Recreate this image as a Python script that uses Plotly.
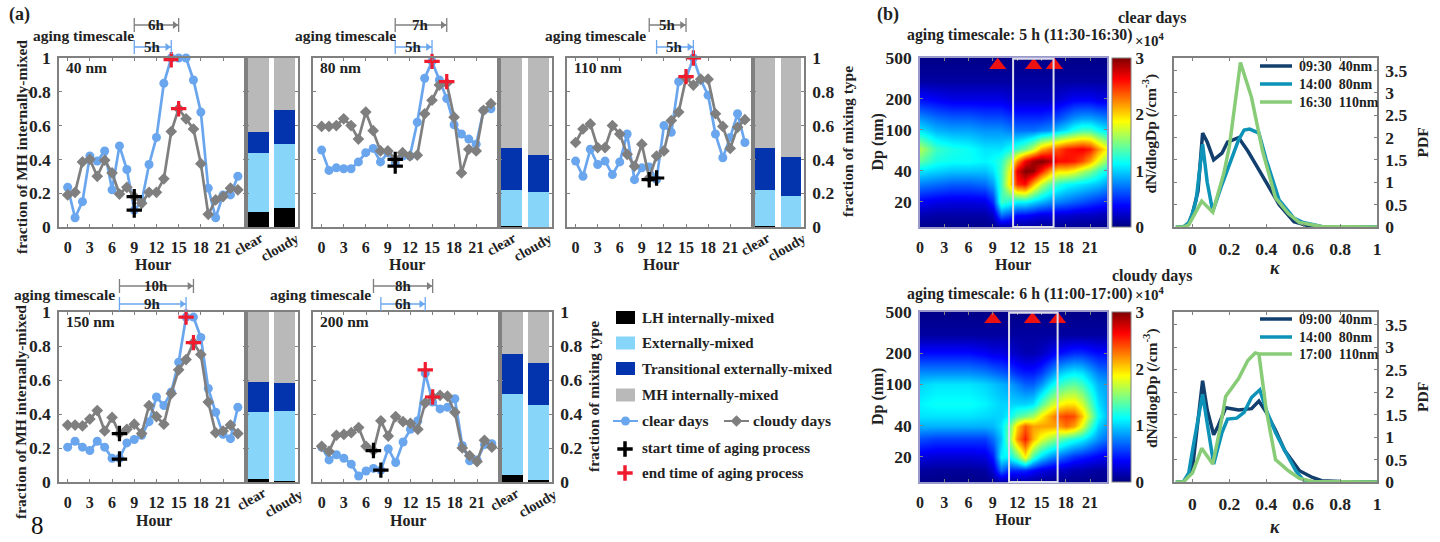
import plotly.graph_objects as go
import math

W, H = 1440, 542
FONT = "Liberation Serif"

# ---------- data ----------
hours = list(range(24))
panels = ["40 nm", "80 nm", "110 nm", "150 nm", "200 nm"]

clear_40 = [.235,.055,.15,.42,.39,.45,.22,.48,.34,.10,.15,.37,.53,.85,1.0,1.0,1.0,.87,.68,.23,.055,.19,.19,.30]
cloudy_40 = [.19,.205,.385,.40,.30,.395,.32,.195,.235,.18,.14,.205,.205,.285,.565,.70,.64,.58,.375,.075,.16,.18,.23,.22]
clear_80 = [.455,.335,.35,.345,.345,.385,.44,.465,.385,.44,.38,.42,.42,.62,.88,.98,.87,.76,.605,.55,.52,.49,.69,.70]
cloudy_80 = [.595,.595,.60,.64,.60,.52,.68,.57,.45,.45,.40,.44,.42,.425,.67,.75,.84,.85,.65,.32,.46,.45,.69,.73]
clear_110 = [.39,.30,.46,.37,.39,.31,.385,.55,.28,.35,.355,.28,.60,.56,.86,.88,1.0,.87,.78,.55,.41,.53,.67,.50]
cloudy_110 = [.50,.58,.61,.47,.47,.60,.55,.43,.36,.49,.29,.42,.45,.63,.68,.88,.84,.875,.875,.67,.595,.465,.59,.635]
clear_150 = [.205,.24,.205,.185,.24,.205,.14,.14,.23,.25,.275,.355,.50,.45,.53,.705,.97,.97,.85,.55,.41,.28,.255,.44]
cloudy_150 = [.335,.335,.33,.37,.42,.30,.38,.285,.31,.34,.285,.45,.385,.34,.52,.66,.72,.82,.75,.47,.29,.30,.335,.285]
clear_200 = [.205,.13,.16,.14,.105,.035,.065,.08,.07,.195,.115,.235,.31,.36,.64,.47,.43,.44,.49,.215,.125,.13,.22,.225]
cloudy_200 = [.21,.18,.275,.28,.29,.32,.21,.185,.36,.27,.385,.355,.345,.31,.465,.50,.51,.505,.41,.20,.155,.12,.245,.205]

start_x = [[9, 9], [10, 10], [10, 11], [7, 7], [7, 8]]
start_y = [[.18, .10], [.40, .36], [.28, .29], [.285, .135], [.185, .07]]
end_x = [[14, 15], [15, 17], [15, 16], [16, 17], [14, 15]]
end_y = [[.99, .70], [.98, .86], [.89, 1.0], [.97, .82], [.66, .50]]
aging_gray = [6, 7, 5, 10, 8]
aging_blue = [5, 5, 5, 9, 6]

bar_days = ["clear", "cloudy"]
lh_mixed = [[.09, .115], [.005, 0], [.003, 0], [.02, .005], [.04, .01]]
ext_mixed = [[.35, .375], [.215, .21], [.217, .185], [.39, .41], [.475, .445]]
trans_mixed = [[.125, .20], [.245, .215], [.245, .23], [.18, .165], [.24, .245]]
mh_mixed = [[.435, .31], [.535, .575], [.535, .585], [.41, .42], [.245, .30]]

hm_hours = [0,2,4,6,8,9,10,11,12,13,14,15,16,17,18,19,20,21,22,23]
hm_dp = [11,15,20,30,40,50,65,100,130,200,300,520]
hm_clear = [
 [.02]*20,
 [.15,.12,.12,.12,.12,.2,.7,.6,.4,.4,.35,.3,.3,.25,.25,.22,.2,.2,.18,.15],
 [.35,.3,.28,.28,.3,.5,1.3,1.2,1.1,1.1,1.0,.9,.8,.75,.7,.65,.6,.55,.5,.45],
 [.75,.7,.65,.65,.7,.85,1.3,1.9,2.5,2.6,2.1,1.7,1.4,1.25,1.15,1.1,1.05,1.0,.95,.85],
 [1.05,1.0,.95,.95,.95,1.05,1.3,1.8,2.7,3.0,2.95,2.55,2.15,1.95,1.95,1.85,1.65,1.5,1.3,1.15],
 [1.4,1.2,1.15,1.15,1.1,1.15,1.25,1.6,2.2,2.65,2.9,3.0,2.85,2.6,2.6,2.55,2.4,2.15,1.8,1.55],
 [1.65,1.3,1.2,1.15,1.05,1.05,1.05,1.15,1.3,1.45,1.7,2.1,2.3,2.4,2.55,2.6,2.65,2.55,2.2,1.9],
 [1.05,.9,.85,.85,.8,.8,.8,.75,.7,.7,.7,.75,.8,.95,1.05,1.2,1.3,1.3,1.15,1.05],
 [.8,.7,.65,.65,.6,.6,.6,.55,.5,.5,.5,.5,.55,.6,.7,.8,.85,.85,.8,.75],
 [.4,.35,.3,.3,.3,.3,.3,.25,.2,.2,.2,.2,.2,.25,.3,.35,.35,.35,.3,.3],
 [.1]*20,
 [.02]*20,
]
hm_cloudy = [
 [.02]*20,
 [.1,.08,.08,.08,.1,.25,.7,.5,.5,.5,.4,.3,.25,.2,.2,.15,.15,.12,.1,.1],
 [.28,.25,.25,.25,.28,.45,1.1,1.1,1.4,1.9,1.3,1.0,.8,.7,.6,.5,.45,.4,.35,.3],
 [.6,.55,.55,.55,.55,.7,.95,1.5,2.2,2.55,2.1,1.8,1.6,1.45,1.3,1.2,1.1,.95,.8,.7],
 [.9,.9,.9,.9,.9,.92,1.05,1.4,2.0,2.35,2.15,2.15,2.15,2.15,2.3,2.15,1.8,1.35,1.0,.85],
 [1.05,1.05,1.05,1.05,1.02,1.0,1.0,1.1,1.35,1.45,1.6,1.9,2.15,2.35,2.45,2.4,2.05,1.6,1.15,.95],
 [1.1,1.15,1.15,1.15,1.1,1.05,1.0,1.0,1.0,1.0,1.05,1.35,1.65,1.85,1.95,1.95,1.75,1.4,1.05,.9],
 [1.0,1.05,1.05,1.05,1.0,.95,.9,.85,.75,.65,.65,.8,1.05,1.25,1.35,1.4,1.3,1.1,.9,.85],
 [.8,.8,.8,.8,.75,.7,.65,.6,.5,.45,.45,.55,.75,.95,1.05,1.1,1.05,.9,.75,.7],
 [.4,.4,.4,.4,.35,.3,.3,.25,.2,.15,.15,.2,.3,.4,.45,.5,.5,.45,.4,.4],
 [.1]*20,
 [.02]*20,
]
tri_clear = [9.6, 14.05, 16.6]
tri_cloudy = [9.0, 13.9, 17.0]
tri_dp = 425
aging_win = [[11.5, 16.5], [11.0, 17.0]]

k1a = [-.09,-.05,-.02,0,.03,.055,.08,.115,.16,.19,.25,.3,.35,.4,.47,.55,.65,1]
p1a = [0,0,.07,.3,.8,2.1,1.9,1.5,1.65,1.9,2.0,1.7,1.35,1.0,.5,.12,0,0]
k1b = [-.09,-.05,-.02,0,.02,.055,.08,.11,.16,.2,.25,.28,.31,.36,.4,.47,.55,.6,.7,1]
p1b = [0,0,.1,.3,.6,1.85,1.0,.35,.95,1.4,1.95,2.17,2.19,2.1,1.5,.6,.2,.1,.01,0]
k1c = [-.09,-.05,-.02,0,.05,.11,.17,.2,.26,.32,.38,.45,.52,.58,.7,1]
p1c = [0,0,.05,.2,.58,.33,1.2,1.8,3.68,2.9,1.7,.65,.3,.1,.01,0]
k2a = [-.09,-.05,-.02,0,.055,.08,.115,.14,.18,.25,.32,.36,.4,.45,.5,.58,.65,.7,.8,1]
p2a = [0,0,.15,.3,2.25,1.6,1.05,1.25,1.65,1.6,1.63,1.8,1.55,1.15,.7,.25,.1,.03,.01,0]
k2b = [-.09,-.05,-.02,0,.055,.08,.115,.16,.19,.24,.28,.32,.365,.4,.45,.5,.56,.6,.65,1]
p2b = [0,0,.2,.7,1.95,1.3,.4,1.1,1.4,1.42,1.55,1.88,2.05,1.6,1.1,.7,.25,.05,0,0]
k2c = [-.09,-.05,0,.05,.11,.15,.18,.25,.3,.34,.36,.4,.45,.52,.58,.65,1]
p2c = [0,0,.2,.75,.4,1.2,1.9,2.3,2.7,2.87,2.85,1.6,.5,.25,.08,.01,0]

# ---------- styles ----------
C_BLUE, C_GRAY, C_RED = "#6aa6ee", "#7f7f7f", "#ee1c2e"
C_LH, C_EXT, C_TR, C_MH = "#000000", "#87d5f9", "#0433ae", "#b9b9b9"
C_PDF = ["#123f6d", "#0e93b8", "#88cc77"]
JET = [[0, "#00007f"], [.125, "#0000ff"], [.375, "#00ffff"], [.625, "#ffff00"], [.875, "#ff0000"], [1, "#7f0000"]]
AX = "#808080"
CROSS = 11

fig = go.Figure()
layout = dict(width=W, height=H, autosize=False, margin=dict(l=0, r=0, t=0, b=0, autoexpand=False),
              paper_bgcolor="white", plot_bgcolor="rgba(0,0,0,0)", showlegend=False, barmode="stack",
              font=dict(family=FONT, size=15, color="#222222", weight="bold"))
ann, shp = [], []
n_ax = [0]


def px(x):
    return x / W


def py(y):
    return 1 - y / H


def text(x, y, s, size=15.5, anchor="left", angle=0, color="#222222", weight="bold", style="normal"):
    ann.append(dict(xref="paper", yref="paper", x=px(x), y=py(y), text=s, showarrow=False,
                    xanchor=anchor, yanchor="middle", textangle=angle,
                    font=dict(family=FONT, size=size, color=color, weight=weight, style=style)))


def axes(x0, x1, y0, y1, xopt, yopt):
    n_ax[0] += 1
    k = n_ax[0]
    s = "" if k == 1 else str(k)
    base = dict(showgrid=False, zeroline=False, showline=True, linecolor=AX, linewidth=1.5, mirror="ticks",
                ticks="inside", ticklen=3, tickcolor=AX, tickfont=dict(family=FONT, size=17.5, color="#222222", weight="bold"))
    layout["xaxis" + s] = {**base, "domain": [px(x0), px(x1)], "anchor": "y" + s, **xopt}
    layout["yaxis" + s] = {**base, "domain": [py(y1), py(y0)], "anchor": "x" + s, **yopt}
    return "x" + s, "y" + s


XTF = dict(family=FONT, size=16, color="#222222", weight="bold")
xt = [0, 3, 6, 9, 12, 15, 18, 21]
yt = [0, .2, .4, .6, .8, 1]
yl = ["0", "0.2", "0.4", "0.6", "0.8", "1"]
geom = [
    (59, 246, 298, 58, 227, 31, 25, 47),
    (313, 499, 552, 58, 227, 293, 25, 47),
    (567, 753, 804, 58, 227, 543, 25, 47),
    (59, 246, 298, 312, 482, 12, 286, 304),
    (313, 500, 552, 312, 482, 268, 286, 304),
]
clears = [clear_40, clear_80, clear_110, clear_150, clear_200]
cloudys = [cloudy_40, cloudy_80, cloudy_110, cloudy_150, cloudy_200]
HR = [-1.17, 24.1]

# key glyphs and bracket arrowheads go on a hidden, figure-wide pair of axes
kx, ky = axes(0, W, 0, H, dict(range=[0, W], visible=False), dict(range=[H, 0], visible=False))
for x0, col, sym in ((613, C_BLUE, "circle"), (724, C_GRAY, "diamond")):
    fig.add_trace(go.Scatter(x=[x0, x0 + 12.5, x0 + 25], y=[421, 421, 421], mode="lines", xaxis=kx, yaxis=ky,
                             line=dict(color=col, width=2)))
    fig.add_trace(go.Scatter(x=[x0 + 12.5], y=[421], mode="markers", xaxis=kx, yaxis=ky, marker=dict(color=col, size=9, symbol=sym)))
for yy, col in ((449, "#000000"), (473, C_RED)):
    fig.add_trace(go.Scatter(x=[625], y=[yy], mode="markers", xaxis=kx, yaxis=ky,
                             marker=dict(symbol="cross-thin", size=CROSS, line=dict(color=col, width=3.5))))

for i, (xa, xb, xc, yt0, yb0, lx, ygray, yblue) in enumerate(geom):
    left = i in (0, 3)
    right = i in (2, 4)
    xopt = dict(range=HR, tickvals=xt, ticklabelstandoff=5, tickfont=XTF)
    yopt = dict(range=[0, 1], tickvals=yt, ticktext=yl, showticklabels=left, ticklabelstandoff=3)
    xn, yn = axes(xa, xb, yt0, yb0, xopt, yopt)
    fig.add_trace(go.Scatter(x=hours, y=clears[i], mode="lines+markers", xaxis=xn, yaxis=yn,
                             line=dict(color=C_BLUE, width=2.7), marker=dict(color=C_BLUE, size=9, symbol="circle"), cliponaxis=False))
    fig.add_trace(go.Scatter(x=hours, y=cloudys[i], mode="lines+markers", xaxis=xn, yaxis=yn,
                             line=dict(color=C_GRAY, width=2.7), marker=dict(color=C_GRAY, size=9, symbol="diamond"), cliponaxis=False))
    fig.add_trace(go.Scatter(x=start_x[i], y=start_y[i], mode="markers", xaxis=xn, yaxis=yn, cliponaxis=False,
                             marker=dict(symbol="cross-thin", size=CROSS, line=dict(color="#000000", width=3.2))))
    fig.add_trace(go.Scatter(x=end_x[i], y=end_y[i], mode="markers", xaxis=xn, yaxis=yn, cliponaxis=False,
                             marker=dict(symbol="cross-thin", size=CROSS, line=dict(color=C_RED, width=3.2))))
    # aging timescale brackets
    text(lx, 35 if i < 3 else 294, "aging timescale")
    dom = lambda yy: (yb0 - yy) / (yb0 - yt0)
    hpx = lambda h: xa + (h - HR[0]) / (HR[1] - HR[0]) * (xb - xa)
    for yy, dur, col, s0 in ((ygray, aging_gray[i], C_GRAY, start_x[i][0]),
                             (yblue, aging_blue[i], C_BLUE, start_x[i][1] if i in (2, 4) else start_x[i][0])):
        e0 = s0 + dur
        for xv in (s0, e0):
            shp.append(dict(type="line", xref=xn, yref=yn + " domain", x0=xv, x1=xv, y0=dom(yy - 7), y1=dom(yy + 7),
                            line=dict(color=col, width=1.3)))
        shp.append(dict(type="line", xref=xn, yref=yn + " domain", x0=s0, x1=e0, y0=dom(yy), y1=dom(yy),
                        line=dict(color=col, width=1.5)))
        fig.add_trace(go.Scatter(x=[hpx(e0) - 4], y=[yy], mode="markers", xaxis=kx, yaxis=ky,
                                 marker=dict(symbol="triangle-right", size=7, color=col)))
        ann.append(dict(xref=xn, yref=yn + " domain", x=(s0 + e0) / 2, y=dom(yy), text=f"{dur}h", showarrow=False,
                        xanchor="center", yanchor="middle",
                        font=dict(family=FONT, size=15, color="#222222", weight="bold")))
    text(xa + 5, yt0 + 10, panels[i])
    text((xa + xb) / 2 + 1 if i else 153, yb0 + 38, "Hour", size=16, anchor="center")
    # bars
    xopt2 = dict(range=[-.48, 1.52], tickvals=[0, 1], showticklabels=False, ticks="")
    yopt2 = dict(range=[0, 1], tickvals=yt, ticktext=yl, side="right", showticklabels=right, ticklabelstandoff=3)
    xbn, ybn = axes(xb, xc, yt0, yb0, xopt2, yopt2)
    for vals, col in ((lh_mixed, C_LH), (ext_mixed, C_EXT), (trans_mixed, C_TR), (mh_mixed, C_MH)):
        fig.add_trace(go.Bar(x=[0, 1], y=vals[i], xaxis=xbn, yaxis=ybn, marker=dict(color=col, line=dict(width=0)), width=.8))
    top = i < 3
    text(xb + (2.5 if top else 5), yb0 + 17, bar_days[0], size=14.5, anchor="center", angle=-30)
    text(xb + (34 if top else 38), yb0 + (20 if top else 21), bar_days[1], size=14.5, anchor="center", angle=-30)

text(21, 147, "fraction of MH internally-mixed", anchor="center", angle=-90)
text(20, 412, "fraction of MH internally-mixed", anchor="center", angle=-90)
text(847, 142, "fraction of mixing type", anchor="center", angle=-90)
text(593, 397, "fraction of mixing type", anchor="center", angle=-90)
text(7, 15, "(a)", size=18)
text(875, 15, "(b)", size=18)
text(29, 525, "8", size=25, weight="normal", color="#111111")

# ---------- mixing-type / line key ----------
for yy, col, lab in ((317.5, C_LH, "LH internally-mixed"), (343, C_EXT, "Externally-mixed"),
                     (368.5, C_TR, "Transitional externally-mixed"), (395, C_MH, "MH internally-mixed")):
    shp.append(dict(type="rect", xref="paper", yref="paper", x0=px(616), x1=px(635), y0=py(yy - 6.5), y1=py(yy + 6.5),
                    fillcolor=col, line=dict(width=0)))
    text(640, yy, lab, size=15)
text(640, 420, "clear days")
text(751, 420, "cloudy days")
text(640, 448, "start time of aging process", size=15)
text(640, 473, "end time of aging process", size=15)

# ---------- panel (b) ----------
rows = [
    (58, 227, hm_clear, tri_clear, aging_win[0], "aging timescale: 5 h (11:30-16:30)", 35, 18, "clear days", 1116, 40,
     ((k1a, p1a, "09:30  40nm"), (k1b, p1b, "14:00  80nm"), (k1c, p1c, "16:30  110nm")), (66, 84, 102), 268),
    (312, 482, hm_cloudy, tri_cloudy, aging_win[1], "aging timescale: 6 h (11:00-17:00)", 294, 276, "cloudy days", 1110, 294,
     ((k2a, p2a, "09:00  40nm"), (k2b, p2b, "14:00  80nm"), (k2c, p2c, "17:00  110nm")), (319, 337, 354), 527),
]
for y0, y1, zz, tri, win, title, ty, hy, hs, hx, my, curves, ly, ky0 in rows:
    xopt = dict(range=[0, 23.1], tickvals=xt, ticklabelstandoff=5, linecolor="#9999cc", tickfont=XTF)
    yopt = dict(type="log", range=[math.log10(11.4), math.log10(500)], tickvals=[20, 40, 100, 200, 500],
                ticktext=["20", "40", "100", "200", "500"], ticklabelstandoff=3, linecolor="#9999cc")
    xn, yn = axes(920, 1107, y0, y1, xopt, yopt)
    cy = 1 - (y0 + y1) / 2 / H
    fig.add_trace(go.Heatmap(x=hm_hours, y=hm_dp, z=zz, xaxis=xn, yaxis=yn, zsmooth="best", colorscale=JET, zmin=0, zmax=3,
                             colorbar=dict(x=px(1112), xanchor="left", thickness=19, len=(y1 - y0) / H, y=cy, yanchor="middle",
                                           xpad=0, ypad=0, tickvals=[0, 1, 2, 3], outlinecolor=AX, outlinewidth=1, ticks="",
                                           tickfont=dict(family=FONT, size=17, color="#222222", weight="bold"))))
    fig.add_trace(go.Scatter(x=tri, y=[tri_dp] * 3, mode="markers", xaxis=xn, yaxis=yn,
                             marker=dict(symbol="triangle-up", size=15, color="#ee1111")))
    shp.append(dict(type="rect", xref=xn, yref=yn + " domain", x0=win[0], x1=win[1], y0=0, y1=.995,
                    line=dict(color="#dcdce8", width=2), fillcolor="rgba(0,0,0,0)"))
    text(905, ty, title, size=15.8)
    text(hx, hy, hs, size=16)
    text(1133, my, "×10<sup>4</sup>", size=15)
    text(1150, (y0 + y1) / 2 - 9, "dN/dlogDp (/cm<sup>-3</sup>)", anchor="center", angle=-90)
    text(878, (y0 + y1) / 2, "Dp (nm)", size=16, anchor="center", angle=-90)
    text(1013, y1 + 37, "Hour", size=16, anchor="center")
    # PDF panel
    xopt = dict(range=[-.1, 1], tickvals=[0, .2, .4, .6, .8, 1], ticktext=["0", "0.2", "0.4", "0.6", "0.8", "1"], ticklabelstandoff=5)
    yopt = dict(range=[0, 3.78], tickvals=[0, .5, 1, 1.5, 2, 2.5, 3, 3.5], ticktext=["0", "0.5", "1", "1.5", "2", "2.5", "3", "3.5"],
                side="right", ticklabelstandoff=3)
    xn, yn = axes(1174, 1377, y0, y1, xopt, yopt)
    for (kk, pp, lab), col, yy in zip(curves, C_PDF, ly):
        fig.add_trace(go.Scatter(x=kk, y=pp, mode="lines", xaxis=xn, yaxis=yn, line=dict(color=col, width=3.5)))
        shp.append(dict(type="line", xref="paper", yref="paper", x0=px(1260), x1=px(1292), y0=py(yy), y1=py(yy),
                        line=dict(color=col, width=3.5)))
        text(1297, yy, lab, size=14)
    text(1422, (y0 + y1) / 2, "PDF", anchor="center", angle=-90)
    text(1275, ky0, "κ", size=18, anchor="center", style="italic")

layout["annotations"] = ann
layout["shapes"] = shp
fig.update_layout(**layout)
fig.write_html("out.html", config=dict(displayModeBar=False), post_script="document.body.style.margin='0';")
